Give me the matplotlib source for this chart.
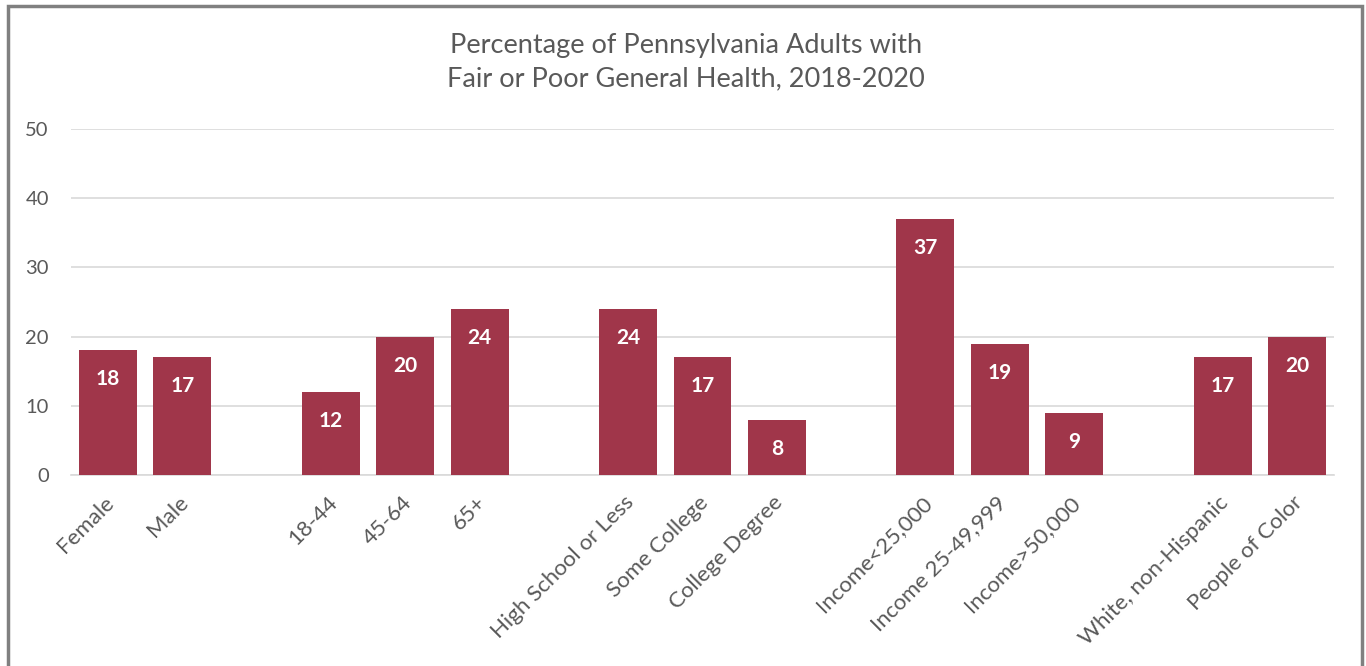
import matplotlib
matplotlib.use("Agg")
import matplotlib.pyplot as plt
from matplotlib.patches import Rectangle
from matplotlib.transforms import ScaledTranslation

categories = ["Female", "Male", "", "18-44", "45-64", "65+", "",
              "High School or Less", "Some College", "College Degree", "",
              "Income<25,000", "Income 25-49,999", "Income>50,000", "",
              "White, non-Hispanic", "People of Color"]
values = [18, 17, None, 12, 20, 24, None, 24, 17, 8, None, 37, 19, 9, None, 17, 20]
yticks = [0, 10, 20, 30, 40, 50]
title = "Percentage of Pennsylvania Adults with\nFair or Poor General Health, 2018-2020"

plt.rcParams['font.family'] = ['Lato', 'DejaVu Sans']
bar_color = "#A0364A"
text_gray = "#595959"

fig = plt.figure(figsize=(13.66, 6.66), dpi=100)
ax = fig.add_axes([71/1366, 1-475/666, (1334-71)/1366, (475-129)/666])

xs = [i for i, v in enumerate(values) if v is not None]
vs = [v for v in values if v is not None]
bars = ax.bar(xs, vs, width=0.78, color=bar_color, zorder=3)
for x, v in zip(xs, vs):
    ax.annotate(str(v), (x, v), xytext=(0, -29), textcoords='offset pixels',
                ha='center', va='center', color='white', fontsize=15,
                fontweight='bold', zorder=4)

ax.set_xlim(-0.5, 16.5)
ax.set_ylim(0, 50)
ax.set_yticks(yticks)
ax.set_yticklabels([str(t) for t in yticks], fontsize=14.5, color=text_gray)
ax.yaxis.grid(True, color="#D9D9D9", linewidth=1.2, zorder=0)
ax.tick_params(axis='y', length=0, pad=16)
ax.set_xticks(range(len(categories)))
ax.set_xticklabels(categories, rotation=45, ha='right', rotation_mode='anchor',
                   fontsize=16, color=text_gray)
ax.tick_params(axis='x', length=0, pad=6)
offset = ScaledTranslation(-4/100, -9/100, fig.dpi_scale_trans)
for lbl in ax.get_xticklabels():
    lbl.set_transform(lbl.get_transform() + offset)
for s in ['top', 'right', 'left']:
    ax.spines[s].set_visible(False)
ax.spines['bottom'].set_color("#D9D9D9")
ax.spines['bottom'].set_linewidth(1.2)

fig.text(686/1366, 1-62/666, title, ha='center', va='center', fontsize=19.5,
         color=text_gray, linespacing=1.42)

fig.patches.append(Rectangle((8/1366, -0.05), (1362-8)/1366, 1.05 - 6/666,
                             transform=fig.transFigure, fill=False,
                             edgecolor="#808080", linewidth=2.5))

fig.savefig("out.png", dpi=100)
